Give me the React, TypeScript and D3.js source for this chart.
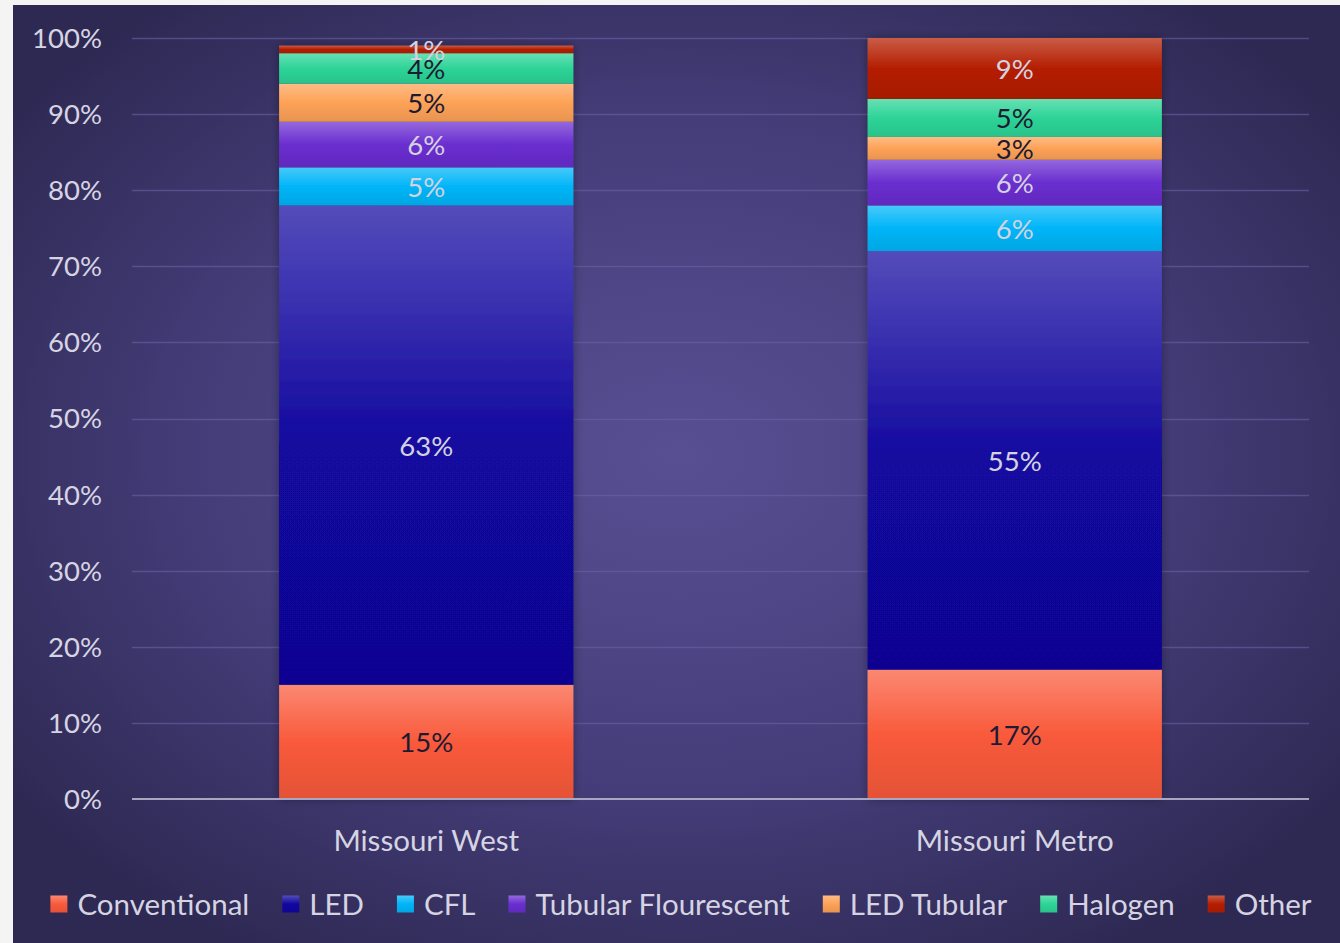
import { useEffect, useRef } from "react";
import * as d3 from "d3";

// chart data
const categories = ["Missouri West", "Missouri Metro"];
const seriesNames = ["Conventional", "LED", "CFL", "Tubular Flourescent", "LED Tubular", "Halogen", "Other"];
const conventional = [15, 17];
const led = [63, 55];
const cfl = [5, 6];
const tubular = [6, 6];
const ledTubular = [5, 3];
const halogen = [4, 5];
const other = [1, 9];
const yTicks = [0, 10, 20, 30, 40, 50, 60, 70, 80, 90, 100];

const seriesColors = ["#f95a3b", "#12079f", "#00b5f8", "#6a2ed0", "#fda257", "#2dd497", "#b41e00"];
const labelColors = ["#1d1b33", "#d4d2e0", "#d4d2e0", "#d4d2e0", "#1d1b33", "#1d1b33", "#d4d2e0"];

const W = 1340;
const H = 943;
const FONT = "Lato, 'Open Sans', sans-serif";

function App() {
  const ref = useRef<SVGSVGElement | null>(null);

  useEffect(() => {
    if (!ref.current) return;
    const svg = d3.select(ref.current);
    svg.selectAll("*").remove();

    const MARGIN = { top: 38, right: 31, bottom: 144, left: 132 };
    const values = [conventional, led, cfl, tubular, ledTubular, halogen, other];
    const rows = categories.map((c, i) => {
      const r: Record<string, any> = { category: c };
      seriesNames.forEach((s, k) => (r[s] = values[k][i]));
      return r;
    });
    const stacked = d3.stack<any>().keys(seriesNames)(rows);

    const x = d3
      .scaleBand()
      .domain(categories)
      .range([MARGIN.left, W - MARGIN.right])
      .paddingInner(0.5)
      .paddingOuter(0.25);
    const y = d3
      .scaleLinear()
      .domain([0, 100])
      .range([H - MARGIN.bottom, MARGIN.top])
      .clamp(true);

    const defs = svg.append("defs");
    const bg = defs
      .append("radialGradient")
      .attr("id", "bg")
      .attr("cx", "50%")
      .attr("cy", "48%")
      .attr("r", "62%");
    bg.append("stop").attr("offset", "0%").attr("stop-color", "#574f92");
    bg.append("stop").attr("offset", "55%").attr("stop-color", "#463e7b");
    bg.append("stop").attr("offset", "100%").attr("stop-color", "#2e2953");

    seriesColors.forEach((c, i) => {
      const g = defs
        .append("linearGradient")
        .attr("id", `g${i}`)
        .attr("x1", 0)
        .attr("y1", 0)
        .attr("x2", 0)
        .attr("y2", 1);
      g.append("stop").attr("offset", "0%").attr("stop-color", d3.interpolateRgb(c, "#ffffff")(0.28));
      g.append("stop").attr("offset", "50%").attr("stop-color", c);
      g.append("stop").attr("offset", "100%").attr("stop-color", d3.color(c)!.darker(0.25).formatHex());
    });

    const shadow = defs
      .append("filter")
      .attr("id", "shadow")
      .attr("x", "-10%")
      .attr("y", "-10%")
      .attr("width", "120%")
      .attr("height", "120%");
    shadow
      .append("feDropShadow")
      .attr("dx", 0)
      .attr("dy", 0)
      .attr("stdDeviation", 5)
      .attr("flood-color", "#000")
      .attr("flood-opacity", 0.35);

    // page and chart background
    svg.append("rect").attr("width", W).attr("height", H).attr("fill", "#f4f4f4");
    svg.append("rect").attr("x", 13).attr("y", 5).attr("width", W - 13).attr("height", H - 5).attr("fill", "url(#bg)");

    // gridlines
    svg
      .append("g")
      .selectAll("line")
      .data(yTicks.filter((t) => t > 0))
      .join("line")
      .attr("x1", MARGIN.left)
      .attr("x2", W - MARGIN.right)
      .attr("y1", (d) => Math.round(y(d)) + 0.5)
      .attr("y2", (d) => Math.round(y(d)) + 0.5)
      .attr("stroke", "#6a63a3")
      .attr("stroke-opacity", 0.6)
      .attr("stroke-width", 1.5);

    // y tick labels
    svg
      .append("g")
      .selectAll("text")
      .data(yTicks)
      .join("text")
      .attr("x", 102)
      .attr("y", (d) => y(d))
      .attr("dy", "0.36em")
      .attr("text-anchor", "end")
      .attr("font-family", FONT)
      .attr("font-size", 27.5)
      .attr("fill", "#d6d4e2")
      .text((d) => `${d}%`);

    // bars
    const bars = svg.append("g");
    categories.forEach((cat, ci) => {
      const g = bars.append("g").attr("filter", "url(#shadow)");
      stacked.forEach((s, si) => {
        const d = s[ci];
        const y0 = y(d[0]);
        const y1 = y(d[1]);
        g.append("rect")
          .attr("x", x(cat)!)
          .attr("width", x.bandwidth())
          .attr("y", y1)
          .attr("height", Math.max(0, y0 - y1))
          .attr("fill", `url(#g${si})`);
      });
    });

    // axis line
    svg
      .append("line")
      .attr("x1", MARGIN.left)
      .attr("x2", W - MARGIN.right)
      .attr("y1", y(0))
      .attr("y2", y(0))
      .attr("stroke", "#a9a6c2")
      .attr("stroke-width", 2);

    // segment labels
    const labels = svg.append("g");
    categories.forEach((cat, ci) => {
      stacked.forEach((s, si) => {
        const d = s[ci];
        labels
          .append("text")
          .attr("x", x(cat)! + x.bandwidth() / 2)
          .attr("y", (y(d[0]) + y(d[1])) / 2)
          .attr("dy", "0.38em")
          .attr("text-anchor", "middle")
          .attr("font-family", FONT)
          .attr("font-size", 27.5)
          .attr("fill", labelColors[si])
          .text(`${d[1] - d[0]}%`);
      });
    });

    // category labels
    svg
      .append("g")
      .selectAll("text")
      .data(categories)
      .join("text")
      .attr("x", (d) => x(d)! + x.bandwidth() / 2)
      .attr("y", 840)
      .attr("dy", "0.36em")
      .attr("text-anchor", "middle")
      .attr("font-family", FONT)
      .attr("font-size", 29.5)
      .attr("fill", "#d6d4e2")
      .text((d) => d);

    // legend
    const legend = svg.append("g");
    const items = seriesNames.map((name, i) => {
      const it = legend.append("g");
      it.append("rect")
        .attr("width", 17)
        .attr("height", 17)
        .attr("y", -8.5)
        .attr("fill", `url(#g${i})`);
      const t = it
        .append("text")
        .attr("x", 27)
        .attr("dy", "0.36em")
        .attr("font-family", FONT)
        .attr("font-size", 29.5)
        .attr("fill", "#d6d4e2")
        .text(name);
      const w = 27 + (t.node() as SVGTextElement).getComputedTextLength();
      return { it, w };
    });
    const gap = 33;
    const total = d3.sum(items, (d) => d.w) + gap * (items.length - 1);
    let cx = 681 - total / 2;
    items.forEach(({ it, w }) => {
      it.attr("transform", `translate(${cx},904)`);
      cx += w + gap;
    });
  }, []);

  return (
    <svg
      ref={ref}
      width={W}
      height={H}
      style={{ position: "absolute", left: 0, top: 0, display: "block" }}
      role="img"
      aria-label="Stacked bar chart of lighting types by region"
    />
  );
}

export default App;
